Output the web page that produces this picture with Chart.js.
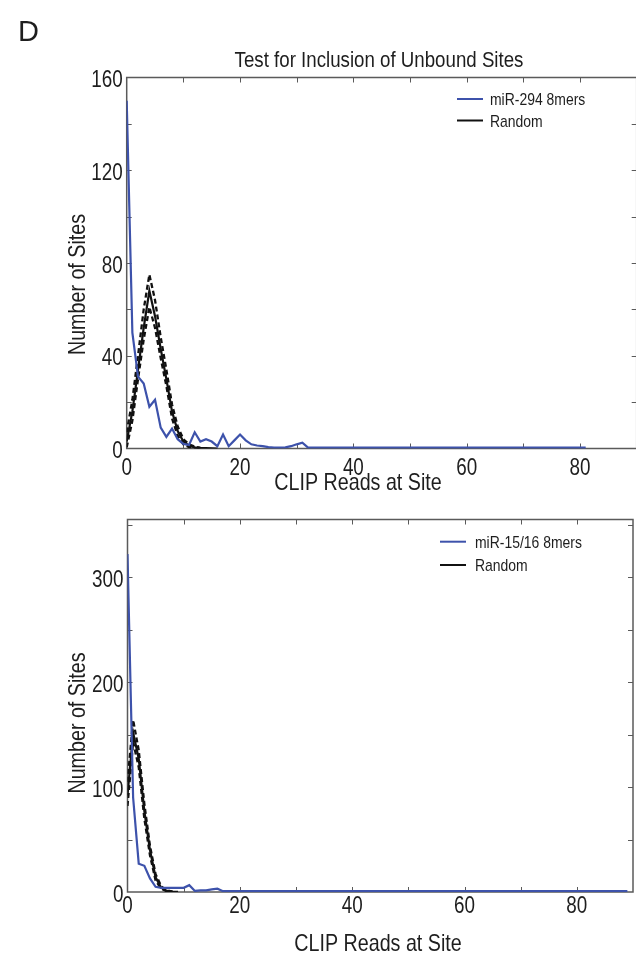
<!DOCTYPE html>
<html>
<head>
<meta charset="utf-8">
<script src="https://cdn.jsdelivr.net/npm/chart.js@4.4.1/dist/chart.umd.min.js"></script>
<style>
html, body { margin: 0; padding: 0; background: #fff; overflow: hidden; }
#wrap { position: relative; width: 636px; height: 955px; overflow: hidden; }
.panel { position: absolute; left: 0; width: 640px; }
</style>
</head>
<body>
<div id="wrap">
  <div class="panel" style="top:0;height:505px"><canvas id="topChart" width="640" height="505"></canvas></div>
  <div class="panel" style="top:505px;height:450px"><canvas id="bottomChart" width="640" height="450"></canvas></div>
</div>
<script>
// x = number of CLIP reads at a site (index of each value)
const TOP_TITLE = 'Test for Inclusion of Unbound Sites';
const X_TITLE = 'CLIP Reads at Site';
const Y_TITLE = 'Number of Sites';
const TOP_LABELS = ['miR-294 8mers', 'Random'];
const BOTTOM_LABELS = ['miR-15/16 8mers', 'Random'];

const topMir = [150, 50, 31, 28, 18, 21, 9, 5, 8.6, 4,
  2, 1.5, 7, 3, 4, 3, 1, 6, 1, 3.5,
  6, 3.5, 1.8, 1.3, 1, 0.6, 0.4, 0.4, 0.5, 1,
  1.8, 2.5, 0.4, 0.4, 0.4, 0.4, 0.4, 0.4, 0.4, 0.4,
  0.4, 0.4, 0.4, 0.4, 0.4, 0.4, 0.4, 0.4, 0.4, 0.4,
  0.4, 0.4, 0.4, 0.4, 0.4, 0.4, 0.4, 0.4, 0.4, 0.4,
  0.4, 0.4, 0.4, 0.4, 0.4, 0.4, 0.4, 0.4, 0.4, 0.4,
  0.4, 0.4, 0.4, 0.4, 0.4, 0.4, 0.4, 0.4, 0.4, 0.4,
  0.4, 0.4];
const topRandom = [3, 16, 34, 52, 68, 57, 43, 30, 16, 7.5, 3, 1.2, 0.5, 0.3, 0.2, 0.1, 0];
const topRandomHi = [7, 21, 40, 60, 75, 64, 48, 34, 19, 9.5, 4, 1.8, 0.8, 0.3];
const topRandomLo = [0.5, 12, 30, 47, 61, 52, 39, 27, 13, 5.5, 1.8, 0.6, 0.2, 0.1];

const bottomMir = [322, 90, 27, 25, 13, 5, 4, 4, 4, 4,
  4, 6.5, 1, 1.5, 1.5, 2.5, 3.2, 0.8, 0.8, 0.8,
  0.8, 0.8, 0.8, 0.8, 0.8, 0.8, 0.8, 0.8, 0.8, 0.8,
  0.8, 0.8, 0.8, 0.8, 0.8, 0.8, 0.8, 0.8, 0.8, 0.8,
  0.8, 0.8, 0.8, 0.8, 0.8, 0.8, 0.8, 0.8, 0.8, 0.8,
  0.8, 0.8, 0.8, 0.8, 0.8, 0.8, 0.8, 0.8, 0.8, 0.8,
  0.8, 0.8, 0.8, 0.8, 0.8, 0.8, 0.8, 0.8, 0.8, 0.8,
  0.8, 0.8, 0.8, 0.8, 0.8, 0.8, 0.8, 0.8, 0.8, 0.8,
  0.8, 0.8, 0.8, 0.8, 0.8, 0.8, 0.8, 0.8, 0.8, 0.8];
const bottomRandom = [92, 152, 127, 77, 40, 14, 4, 1, 0.3, 0.1];
const bottomRandomHi = [105, 164, 135, 84, 44, 17, 5.5, 1.5, 0.4];
const bottomRandomLo = [82, 143, 119, 70, 35, 11, 3, 0.7, 0.2];

const SANS = "'Liberation Sans', Arial, sans-serif";
const NARROW_X = 0.82; // Arial Narrow look: Liberation Sans squeezed horizontally
const TICK_SIZE = 23;
const BLUE = '#3d52ab';
const BLACK = '#111';
const AXIS = '#5a5a5a';
const TEXT = '#1e1e1e';

const pts = arr => arr.map((y, i) => ({ x: i, y }));

function series(label, arr, color, dashed) {
  return {
    label, data: pts(arr), borderColor: color, backgroundColor: color,
    borderWidth: dashed ? 2.3 : 2.2, borderDash: dashed ? [5, 3] : [],
    pointRadius: 0, tension: 0, fill: false
  };
}

function narrowText(ctx, text, x, y, size, align, rotate, squeeze) {
  ctx.save();
  ctx.translate(x, y);
  if (rotate) ctx.rotate(-Math.PI / 2);
  ctx.scale(squeeze === undefined ? NARROW_X : squeeze, 1);
  ctx.font = `${size}px ${SANS}`;
  ctx.textAlign = align || 'center';
  ctx.textBaseline = 'alphabetic';
  ctx.fillStyle = TEXT;
  ctx.fillText(text, 0, 0);
  ctx.restore();
}

// frame, inward ticks, tick labels, titles and legend
const panelPlugin = {
  id: 'panel',
  beforeDatasetsDraw(chart, args, o) {
    const { ctx, chartArea: a, scales: { x, y } } = chart;
    ctx.save();
    ctx.strokeStyle = AXIS;
    ctx.lineWidth = 1.5;
    ctx.strokeRect(a.left, a.top, a.right - a.left, a.bottom - a.top);
    ctx.lineWidth = 1;
    for (let v = o.xStep; v < x.max; v += o.xStep) {
      const px = Math.round(x.getPixelForValue(v)) + 0.5;
      ctx.beginPath();
      ctx.moveTo(px, a.bottom); ctx.lineTo(px, a.bottom - o.tick);
      ctx.moveTo(px, a.top); ctx.lineTo(px, a.top + o.tick);
      ctx.stroke();
    }
    for (let v = o.yStep; v < y.max; v += o.yStep) {
      const py = Math.round(y.getPixelForValue(v)) + 0.5;
      ctx.beginPath();
      ctx.moveTo(a.left, py); ctx.lineTo(a.left + o.tick, py);
      ctx.moveTo(a.right, py); ctx.lineTo(a.right - o.tick, py);
      ctx.stroke();
    }
    ctx.restore();
  },
  afterDraw(chart, args, o) {
    const { ctx, chartArea: a, scales: { x, y } } = chart;
    x.ticks.forEach(t => {
      if (t.label === '') return;
      narrowText(ctx, String(t.label), x.getPixelForValue(t.value), a.bottom + o.xLabelDrop, TICK_SIZE, 'center');
    });
    y.ticks.forEach(t => {
      if (t.label === '') return;
      narrowText(ctx, String(t.label), a.left - 4, y.getPixelForValue(t.value) + 9.5, TICK_SIZE, 'right');
    });
    o.texts.forEach(t => narrowText(ctx, t.text, t.x, t.y, t.size, t.align, t.rotate, t.squeeze));

    const lg = o.legend;
    chart.data.datasets.filter(d => d.label).forEach((d, i) => {
      const yy = lg.rows[i];
      ctx.save();
      ctx.strokeStyle = d.borderColor;
      ctx.lineWidth = 2;
      ctx.beginPath();
      ctx.moveTo(lg.x, yy); ctx.lineTo(lg.x + lg.len, yy);
      ctx.stroke();
      ctx.restore();
      narrowText(ctx, d.label, lg.textX, yy + 6, lg.size, 'left');
    });
  }
};

function scales(xMax, yMax, yStep, yLabelStep, leftW, bottomH) {
  return {
    x: {
      type: 'linear', min: 0, max: xMax,
      afterFit: s => { s.height = bottomH; },
      grid: { display: false, drawTicks: false }, border: { display: false },
      ticks: {
        display: false, stepSize: 10, autoSkip: false,
        callback: v => (v % 20 === 0 && v <= 80 ? v : '')
      }
    },
    y: {
      type: 'linear', min: 0, max: yMax,
      afterFit: s => { s.width = leftW; },
      grid: { display: false, drawTicks: false }, border: { display: false },
      ticks: {
        display: false, stepSize: yStep, autoSkip: false,
        callback: v => (v % yLabelStep === 0 ? v : '')
      }
    }
  };
}

new Chart(document.getElementById('topChart'), {
  type: 'line',
  data: {
    datasets: [
      series(TOP_LABELS[0], topMir, BLUE, false),
      series(TOP_LABELS[1], topRandom, BLACK, false),
      series('', topRandomHi, BLACK, true),
      series('', topRandomLo, BLACK, true)
    ]
  },
  options: {
    responsive: false, animation: false,
    layout: { padding: { top: 77.5, right: 3.3, left: 0, bottom: 0 } },
    scales: scales(90, 160, 20, 40, 126.7, 56.5),
    plugins: {
      legend: { display: false }, tooltip: { enabled: false },
      panel: {
        xStep: 10, yStep: 20, tick: 5, xLabelDrop: 26.5,
        texts: [
          { text: 'D', x: 18, y: 41, size: 29, align: 'left', squeeze: 1 },
          { text: TOP_TITLE, x: 379, y: 67, size: 22.8 },
          { text: X_TITLE, x: 358, y: 490, size: 24 },
          { text: Y_TITLE, x: 85, y: 284.5, size: 24, rotate: true }
        ],
        legend: { x: 457, len: 26, textX: 490, rows: [99, 120.5], size: 17 }
      }
    }
  },
  plugins: [panelPlugin]
});

new Chart(document.getElementById('bottomChart'), {
  type: 'line',
  data: {
    datasets: [
      series(BOTTOM_LABELS[0], bottomMir, BLUE, false),
      series(BOTTOM_LABELS[1], bottomRandom, BLACK, false),
      series('', bottomRandomHi, BLACK, true),
      series('', bottomRandomLo, BLACK, true)
    ]
  },
  options: {
    responsive: false, animation: false,
    layout: { padding: { top: 14.5, right: 7, left: 0, bottom: 0 } },
    scales: scales(90, 355, 50, 100, 127.5, 63),
    plugins: {
      legend: { display: false }, tooltip: { enabled: false },
      panel: {
        xStep: 10, yStep: 50, tick: 5, xLabelDrop: 21,
        texts: [
          { text: X_TITLE, x: 378, y: 446, size: 24 },
          { text: Y_TITLE, x: 85, y: 218, size: 24, rotate: true }
        ],
        legend: { x: 440, len: 26, textX: 475, rows: [36.7, 60], size: 17 }
      }
    }
  },
  plugins: [panelPlugin]
});
</script>
</body>
</html>
